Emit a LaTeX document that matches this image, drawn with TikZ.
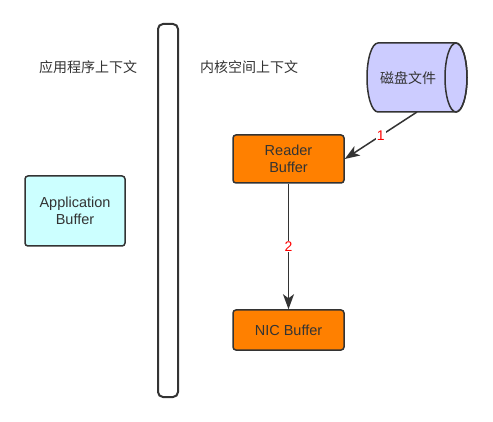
\documentclass[tikz,border=0pt]{standalone}
\usepackage{fontspec}
\setmainfont{Liberation Sans}
\newfontfamily\cjk{Noto Sans CJK SC}
\usetikzlibrary{arrows.meta}
\definecolor{edge}{HTML}{333333}
\definecolor{txt}{HTML}{333333}
\definecolor{orangefill}{HTML}{FF8000}
\definecolor{cyanfill}{HTML}{CCFFFF}
\definecolor{diskfill}{HTML}{CCCCFF}
\definecolor{lblred}{HTML}{FF0000}
\tikzset{
  box/.style={draw=edge, line width=1.5pt, rounded corners=3pt, align=center,
    text=txt, font=\fontsize{14.5}{16.5}\selectfont, inner sep=0pt},
  cjktext/.style={text=txt, font=\cjk\fontsize{14}{16}\selectfont, inner sep=0pt},
  conn/.style={draw=edge, line width=1.5pt, -{Stealth[length=15pt,width=11pt,inset=4pt]}},
  lbl/.style={fill=white, text=lblred, font=\fontsize{14}{16}\selectfont, inner sep=1pt},
}
\begin{document}
\begin{tikzpicture}[x=1pt,y=-1pt]
\useasboundingbox (0,0) rectangle (493,422);
% divider bar
\node[draw=edge, line width=2pt, rounded corners=5pt, fill=white,
  minimum width=20pt, minimum height=373pt, inner sep=0pt] (bar) at (168,210.5) {};
% context titles
\node[cjktext] (appctx) at (88,67) {应用程序上下文};
\node[cjktext] (kerctx) at (249,67) {内核空间上下文};
% disk cylinder
\path[fill=diskfill, draw=edge, line width=1.5pt]
  (378,43) -- (456,43) arc[start angle=-90, end angle=90, x radius=11, y radius=34.5]
  -- (378,112) arc[start angle=90, end angle=270, x radius=11, y radius=34.5] -- cycle;
\draw[edge, line width=1.5pt] (456,77.5) ellipse[x radius=11, y radius=34.5];
\node[cjktext] (disk) at (408,78) {磁盘文件};
\coordinate (diskbottom) at (417,112);
% buffers
\node[box, fill=orangefill, minimum width=111pt, minimum height=48pt] (reader) at (288.5,159) {Reader\\Buffer};
\node[box, fill=cyanfill, minimum width=100pt, minimum height=70pt] (app) at (75,211) {Application\\Buffer};
\node[box, fill=orangefill, minimum width=111pt, minimum height=40pt] (nic) at (288.5,330) {NIC Buffer};
% connectors
\draw[conn] (diskbottom) -- node[lbl] {1} (reader.east);
\draw[conn] (reader.south) -- node[lbl] {2} (nic.north);
\end{tikzpicture}
\end{document}
